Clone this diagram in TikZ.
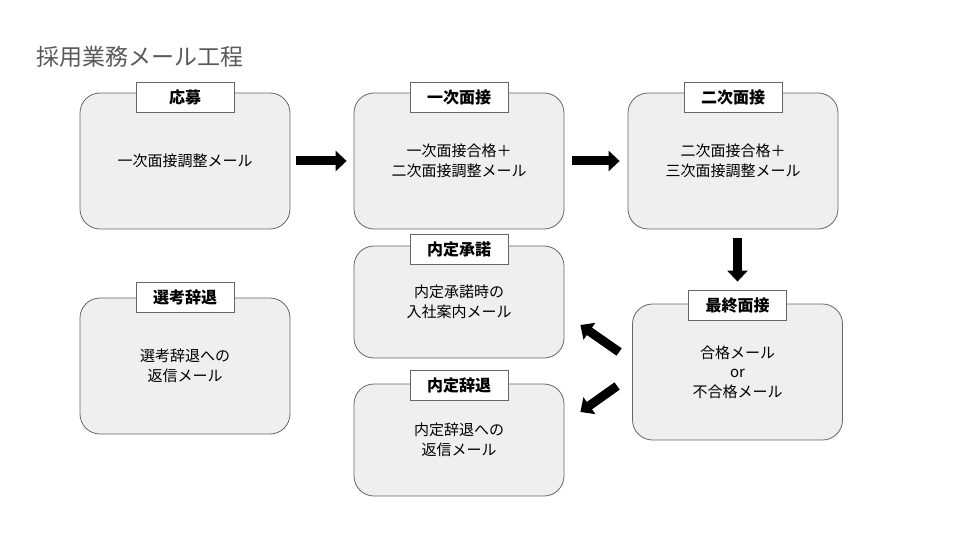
\documentclass[tikz,border=0pt]{standalone}
\usepackage{fontspec}
\setmainfont{Noto Sans CJK JP}
\usetikzlibrary{arrows.meta}
\definecolor{boxfill}{HTML}{EFEFEF}
\definecolor{boxline}{HTML}{666666}
\definecolor{titlegray}{HTML}{595959}
\tikzset{
  stage/.style={draw=boxline, fill=boxfill, line width=0.8pt, rounded corners=20pt,
    minimum width=210pt, minimum height=136pt, align=center,
    font=\fontsize{15}{19.5}\selectfont},
  shortstage/.style={stage, minimum height=112pt},
  tag/.style={draw=boxline, fill=white, line width=0.8pt, minimum width=98pt,
    minimum height=30pt, font=\fontsize{16}{18}\selectfont\bfseries},
  blockarrow/.style={line width=9pt, -{Triangle[length=11pt,width=20pt]}}
}
\begin{document}
\begin{tikzpicture}[x=1pt,y=-1pt]
            \useasboundingbox (0,0) rectangle (960,540);
            \node[anchor=west, text=titlegray, font=\fontsize{23}{26}\selectfont] (title) at (33, 57) {採用業務メール工程};
            \node[stage] (oubo) at (185, 161) {一次面接調整メール};
            \node[stage] (ichiji) at (459, 161) {一次面接合格＋\\二次面接調整メール};
            \node[stage] (niji) at (733, 161) {二次面接合格＋\\三次面接調整メール};
            \node[shortstage] (shodaku) at (459, 302) {内定承諾時の\\入社案内メール};
            \node[stage] (sentaku) at (185, 366) {選考辞退への\\返信メール};
            \node[stage] (saishu) at (737.5, 372) {合格メール\\or\\不合格メール};
            \node[shortstage] (jitai) at (459, 440) {内定辞退への\\返信メール};
            \node[tag, yshift=-5pt] (t-oubo) at (oubo.north) {応募};
            \node[tag, yshift=-5pt] (t-ichiji) at (ichiji.north) {一次面接};
            \node[tag, yshift=-5pt] (t-niji) at (niji.north) {二次面接};
            \node[tag, yshift=-3.5pt] (t-shodaku) at (shodaku.north) {内定承諾};
            \node[tag, yshift=-0pt] (t-sentaku) at (sentaku.north) {選考辞退};
            \node[tag, yshift=-1.5pt] (t-saishu) at (saishu.north) {最終面接};
            \node[tag, yshift=-2pt] (t-jitai) at (jitai.north) {内定辞退};
            \draw[blockarrow, shorten <=6pt, shorten >=7pt] (oubo) -- (ichiji);
            \draw[blockarrow, shorten <=8pt, shorten >=8pt] (ichiji) -- (niji);
            \draw[blockarrow, shorten <=9pt, shorten >=22pt] (saishu.north |- niji.south) -- (saishu.north);
            \draw[blockarrow] ([shift={(-13,-20)}]saishu.west) -- ([shift={(16,23)}]shodaku.east);
            \draw[blockarrow] ([shift={(-15,14)}]saishu.west) -- ([shift={(16,-28)}]jitai.east);
        \end{tikzpicture}
\end{document}
